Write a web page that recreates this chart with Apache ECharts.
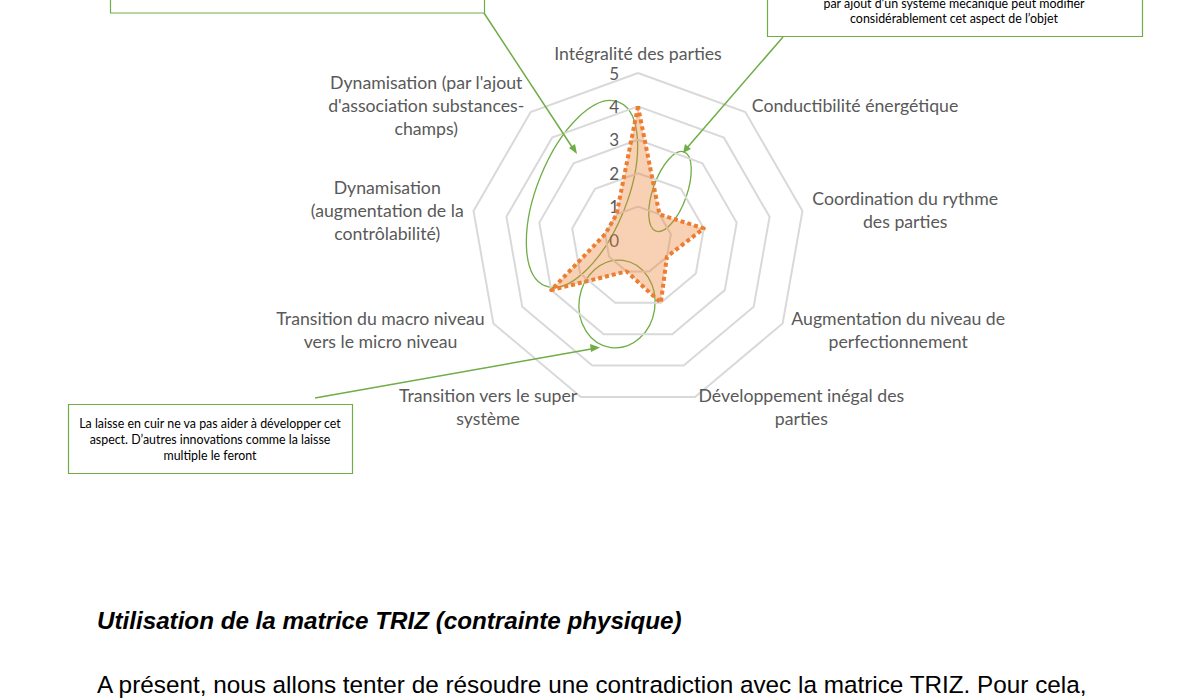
<!DOCTYPE html>
<html>
<head>
<meta charset="utf-8">
<script src="https://cdn.jsdelivr.net/npm/echarts@6/dist/echarts.min.js"></script>
<style>
html,body{margin:0;padding:0;background:#fff;}
#chart{width:1184px;height:698px;}
</style>
</head>
<body>
<div id="chart"></div>
<script>
// Categories in clockwise order starting from the top
const categories = [
  'Intégralité des parties',
  'Conductibilité énergétique',
  'Coordination du rythme\ndes parties',
  'Augmentation du niveau de\nperfectionnement',
  'Développement inégal des\nparties',
  'Transition vers le super\nsystème',
  'Transition du macro niveau\nvers le micro niveau',
  'Dynamisation\n(augmentation de la\ncontrôlabilité)',
  "Dynamisation (par l'ajout\nd'association substances-\nchamps)"
];
const values = [4, 1, 2, 1, 2, 1, 3, 1, 1];
const scaleMax = 5;

const noteBottomLeft = ['La laisse en cuir ne va pas aider à développer cet', 'aspect. D’autres innovations comme la laisse', 'multiple le feront'];
const noteTopRight = ['par ajout d’un système mécanique peut modifier', 'considérablement cet aspect de l’objet'];
const heading = 'Utilisation de la matrice TRIZ (contrainte physique)';
const paragraph = 'A présent, nous allons tenter de résoudre une contradiction avec la matrice TRIZ. Pour cela,';

// ECharts places indicators counter-clockwise: reorder so the chart reads clockwise
const order = [0].concat(categories.slice(1).map((_, i) => categories.length - 1 - i));
const indicator = order.map((k, j) => {
  const o = { name: categories[k], max: scaleMax, min: 0 };
  if (j === 0) o.axisLabel = { show: true };
  return o;
});
const seriesData = order.map(k => values[k]);

const green = '#70AD47';
const txtFont = 'Lato, "Open Sans", sans-serif';

function noteText(lines, cx, y0, lh) {
  return lines.map((t, i) => ({
    type: 'text', x: cx, y: y0 + i * lh, z: 11,
    style: { text: t, fill: '#000', font: '12.4px ' + txtFont, textAlign: 'center', textVerticalAlign: 'middle' }
  }));
}

const chart = echarts.init(document.getElementById('chart'), null, { renderer: 'svg' });
chart.setOption({
  animation: false,
  backgroundColor: '#fff',
  radar: {
    center: [638, 240],
    radius: 167,
    startAngle: 90,
    splitNumber: 5,
    shape: 'polygon',
    nameGap: 10,
    axisName: {
      color: '#595959',
      fontSize: 17.7,
      fontFamily: txtFont,
      lineHeight: 23,
      padding: [0, 0, -2, 0],
      formatter: function (name) {
        return name.split('\n').map(s => '{c|' + s + '}').join('\n');
      },
      rich: { c: { align: 'center', color: '#595959', fontSize: 17.7, fontFamily: txtFont, lineHeight: 23 } }
    },
    axisLine: { show: false },
    axisTick: { show: false },
    axisLabel: { show: false, color: '#595959', fontSize: 17, fontFamily: txtFont, margin: 19, padding: [4, 0, 0, 0] },
    splitLine: { lineStyle: { color: '#D9D9D9', width: 2 } },
    splitArea: { show: false },
    indicator: indicator
  },
  series: [{
    type: 'radar',
    symbol: 'none',
    data: [{
      value: seriesData,
      lineStyle: { color: '#ED7D31', width: 4, type: [4, 3], cap: 'butt' },
      areaStyle: { color: 'rgba(237,125,49,0.52)' }
    }]
  }],
  graphic: [
    // annotation boxes
    { type: 'rect', z: 10, shape: { x: 110.5, y: -40, width: 374, height: 53 }, style: { fill: '#fff', stroke: green, lineWidth: 1.2 } },
    { type: 'rect', z: 10, shape: { x: 767.5, y: -40, width: 375, height: 76.5 }, style: { fill: '#fff', stroke: green, lineWidth: 1.2 } },
    { type: 'rect', z: 10, shape: { x: 68.5, y: 404.5, width: 284, height: 69 }, style: { fill: '#fff', stroke: green, lineWidth: 1.2 } },
    ...noteText(noteTopRight, 954, 3, 15.5),
    ...noteText(noteBottomLeft, 210, 423, 16),
    // highlight ellipses
    { type: 'group', x: 582, y: 194, rotation: -0.38, z: 12, children: [
      { type: 'ellipse', shape: { cx: 0, cy: 0, rx: 45, ry: 99 }, style: { fill: 'none', stroke: green, lineWidth: 1.3 } } ] },
    { type: 'group', x: 670, y: 191.5, rotation: -0.34, z: 12, children: [
      { type: 'ellipse', shape: { cx: 0, cy: 0, rx: 17, ry: 42 }, style: { fill: 'none', stroke: green, lineWidth: 1.3 } } ] },
    { type: 'group', x: 617, y: 304, rotation: -0.14, z: 12, children: [
      { type: 'ellipse', shape: { cx: 0, cy: 0, rx: 38, ry: 44 }, style: { fill: 'none', stroke: green, lineWidth: 1.3 } } ] },
    // arrows
    { type: 'line', z: 12, shape: { x1: 484, y1: 13, x2: 574, y2: 150 }, style: { stroke: green, lineWidth: 1.5 } },
    { type: 'polygon', z: 12, shape: { points: [[577, 154], [569, 148], [575, 144]] }, style: { fill: green } },
    { type: 'line', z: 12, shape: { x1: 783, y1: 37, x2: 686, y2: 149 }, style: { stroke: green, lineWidth: 1.5 } },
    { type: 'polygon', z: 12, shape: { points: [[683, 153], [685, 144], [691, 149]] }, style: { fill: green } },
    { type: 'line', z: 12, shape: { x1: 315, y1: 398, x2: 594, y2: 348.5 }, style: { stroke: green, lineWidth: 1.5 } },
    { type: 'polygon', z: 12, shape: { points: [[600, 347.5], [591, 352], [590, 344]] }, style: { fill: green } },
    // document text
    { type: 'text', x: 97, y: 620, style: { text: heading, fill: '#000', font: 'italic bold 24.2px "Liberation Sans", Arial, sans-serif', textVerticalAlign: 'middle' } },
    { type: 'text', x: 97, y: 684.5, style: { text: paragraph, fill: '#000', font: '24.3px "Liberation Sans", Arial, sans-serif', textVerticalAlign: 'middle' } }
  ]
});
</script>
</body>
</html>
